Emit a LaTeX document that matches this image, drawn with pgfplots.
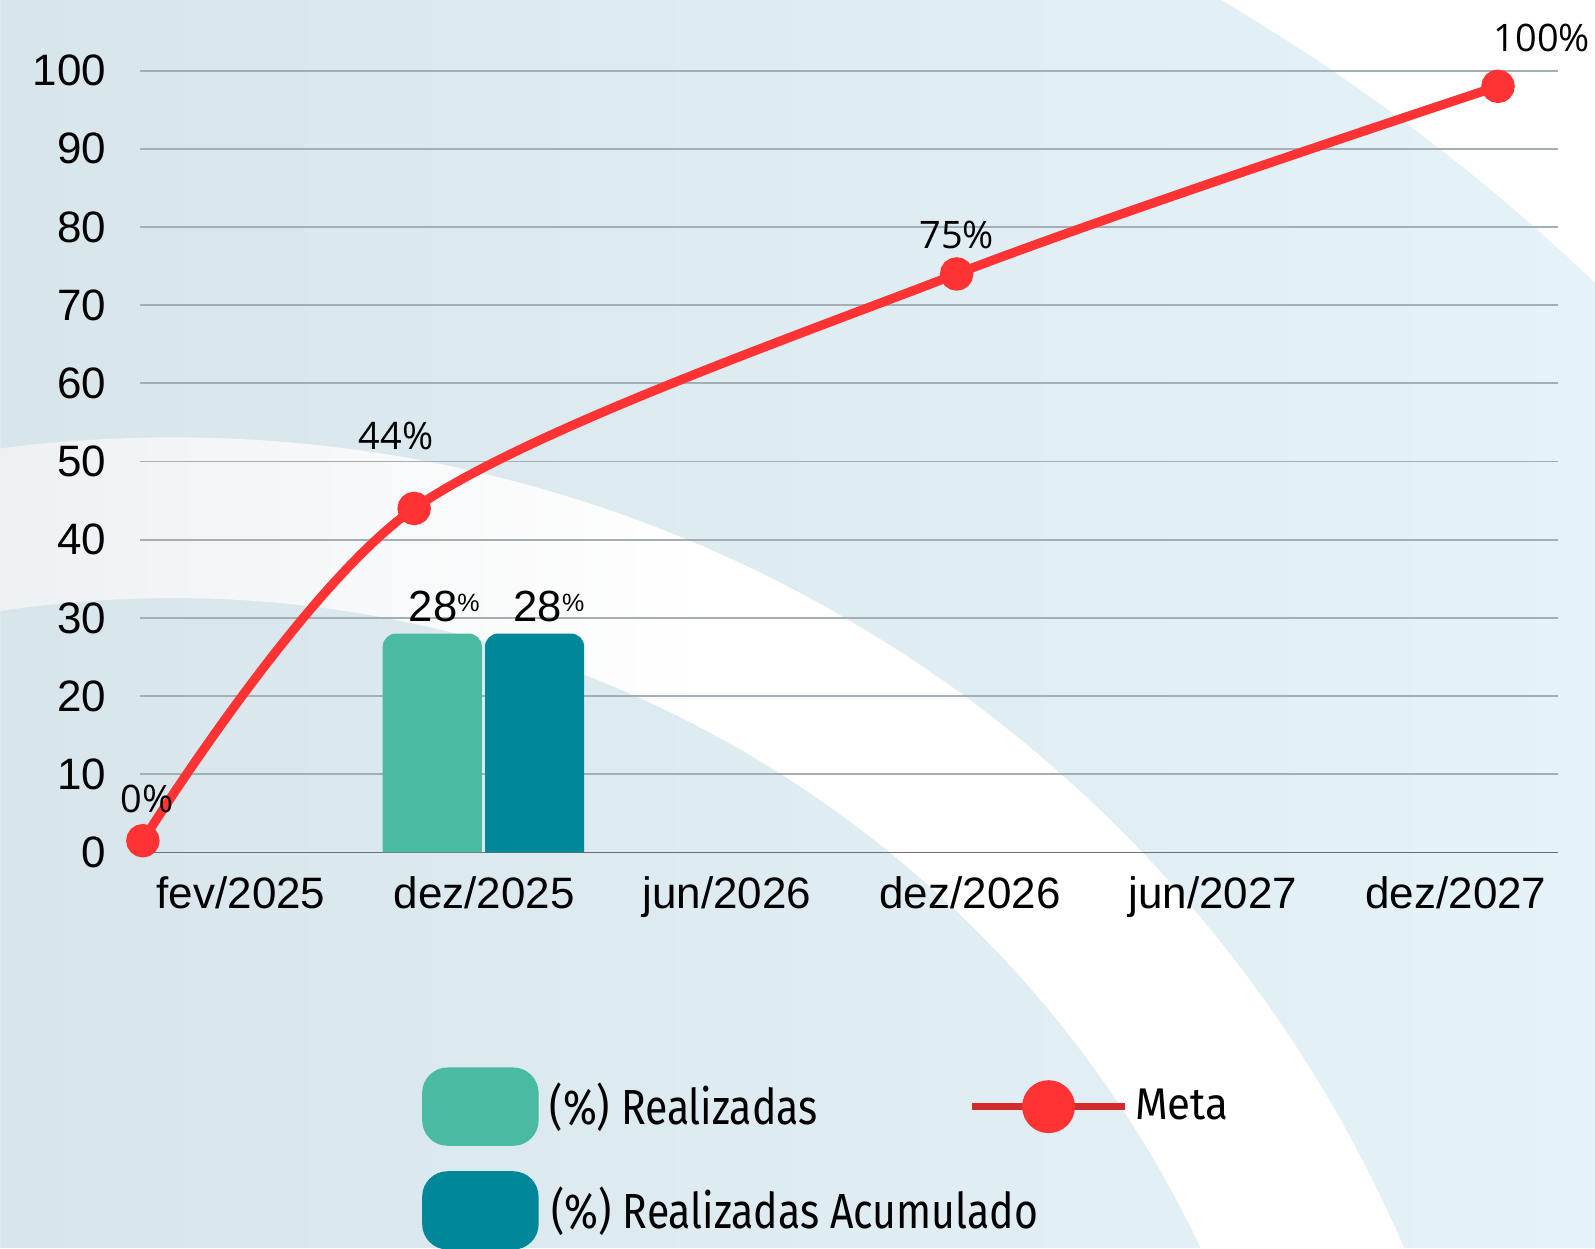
\documentclass[border=0pt]{standalone}
\usepackage{pgfplots}
\pgfplotsset{compat=1.18}
\usepackage{fontspec}
\setmainfont{Liberation Sans}
\newfontfamily\legfont[FakeStretch=0.83]{Fira Sans}
\newfontfamily\legfontB[FakeStretch=0.95]{Fira Sans}
\newfontfamily\labfont{Open Sans}
\definecolor{cA}{HTML}{4ABAA3}
\definecolor{cB}{HTML}{00889A}
\definecolor{cR}{HTML}{FF3333}
\definecolor{cRd}{HTML}{D22B2B}
\definecolor{bgL}{HTML}{D8E6EB}
\definecolor{bgR}{HTML}{E5F2F8}
\definecolor{bandL}{HTML}{EEF1F3}
\definecolor{gridc}{HTML}{A3AFB5}
\definecolor{axc}{HTML}{6A6F72}
\begin{document}
\begin{tikzpicture}[x=0.1mm,y=0.1mm]
\useasboundingbox (0,0) rectangle (1568,1227);
\clip (0,0) rectangle (1568,1227);
\shade[left color=bgL,right color=bgR] (0,0) rectangle (1568,1227);
\fill[white,even odd rule] (0,0) rectangle (1568,1227) (170,-520) circle[radius=2028];
\begin{scope}
\clip (1487,-520) arc[start angle=0,end angle=180,radius=1317] -- (-948,-479) arc[start angle=180,end angle=0,radius=1118] -- cycle;
\shade[left color=bandL,right color=white] (0,0) rectangle (700,1227);
\fill[white] (699,0) rectangle (1568,1227);
\end{scope}
\begin{axis}[
  at={(13.76mm,38.9mm)}, anchor=south west,
  scale only axis, width=139.41mm, height=76.85mm,
  xmin=-0.416, xmax=5.42, ymin=0, ymax=100,
  clip mode=individual,
  ytick={0,10,...,100},
  xtick={0,1,2,3,4,5},
  xticklabels={fev/2025,dez/2025,jun/2026,dez/2026,jun/2027,dez/2027},
  /pgf/number format/assume math mode=true,
  axis x line=bottom, axis y line=left,
  axis line style={-},
  y axis line style={draw=none},
  x axis line style={draw=axc, line width=0.5pt},
  major tick length=0pt,
  ymajorgrids, grid style={gridc, line width=0.5pt},
  tick label style={font=\fontsize{12.3}{14}\selectfont, black},
  yticklabel style={xshift=-2.1mm},
  xticklabel style={yshift=-1.1mm},
  legend columns=2,
  legend cell align=left,
  legend style={at={(0.199,-0.2694)}, anchor=north west, draw=none, fill=none,
    inner sep=0pt, outer sep=0pt,
    font=\legfont\fontsize{13.8}{16}\selectfont,
    row sep=2.5mm, nodes={inner sep=0pt},
    /tikz/every even column/.append style={column sep=14.8mm},
    /tikz/every odd column/.append style={column sep=0.2mm}},
]
\addplot[fill=cA, draw=none, rounded corners=1.3mm,
  legend image code/.code={\fill[cA, rounded corners=2.5mm] (0mm,-3.85mm) rectangle (11.45mm,3.85mm); \path (12.35mm,0);}]
  coordinates {(0.583,-5) (0.583,28) (0.991,28) (0.991,-5)} -- cycle;
\addlegendentry{(\%) Realizadas}
\addplot[cR, line width=2.55pt, smooth, mark=*, mark size=3.4pt, mark options={fill=cR, draw=none},
  legend image code/.code={\draw[cRd, line width=0.72mm] (0mm,0mm) -- (15.1mm,0mm); \fill[cR] (7.55mm,0mm) circle[radius=2.15mm]; \path (15.4mm,0);}]
  coordinates {(-0.404,1.5) (0.7125,44) (2.945,74) (5.173,98)};
\addlegendentry{\legfontB\fontsize{12.4}{15}\selectfont Meta}
\addplot[fill=cB, draw=none, rounded corners=1.3mm,
  legend image code/.code={\fill[cB, rounded corners=2.5mm] (0mm,-3.85mm) rectangle (11.45mm,3.85mm); \path (12.35mm,0);}]
  coordinates {(1.004,-5) (1.004,28) (1.412,28) (1.412,-5)} -- cycle;
\addlegendentry{\rlap{(\%) Realizadas Acumulado}}
\node[font=\labfont\fontsize{10.6}{12}\selectfont, anchor=base] at (axis cs:-0.387,5.07) {0\%};
\node[font=\labfont\fontsize{10.6}{12}\selectfont, anchor=base] at (axis cs:0.638,51.57) {44\%};
\node[font=\labfont\fontsize{10.6}{12}\selectfont, anchor=base] at (axis cs:2.946,77.28) {75\%};
\node[font=\labfont\fontsize{10.6}{12}\selectfont, anchor=base] at (axis cs:5.354,102.45) {100\%};
\node[font=\fontsize{12.2}{14}\selectfont, anchor=base] at (axis cs:0.8363,29.6) {28\raisebox{0.93mm}{\fontsize{7}{8}\selectfont\%}};
\node[font=\fontsize{12.2}{14}\selectfont, anchor=base] at (axis cs:1.267,29.6) {28\raisebox{0.93mm}{\fontsize{7}{8}\selectfont\%}};
\end{axis}
\end{tikzpicture}
\end{document}
